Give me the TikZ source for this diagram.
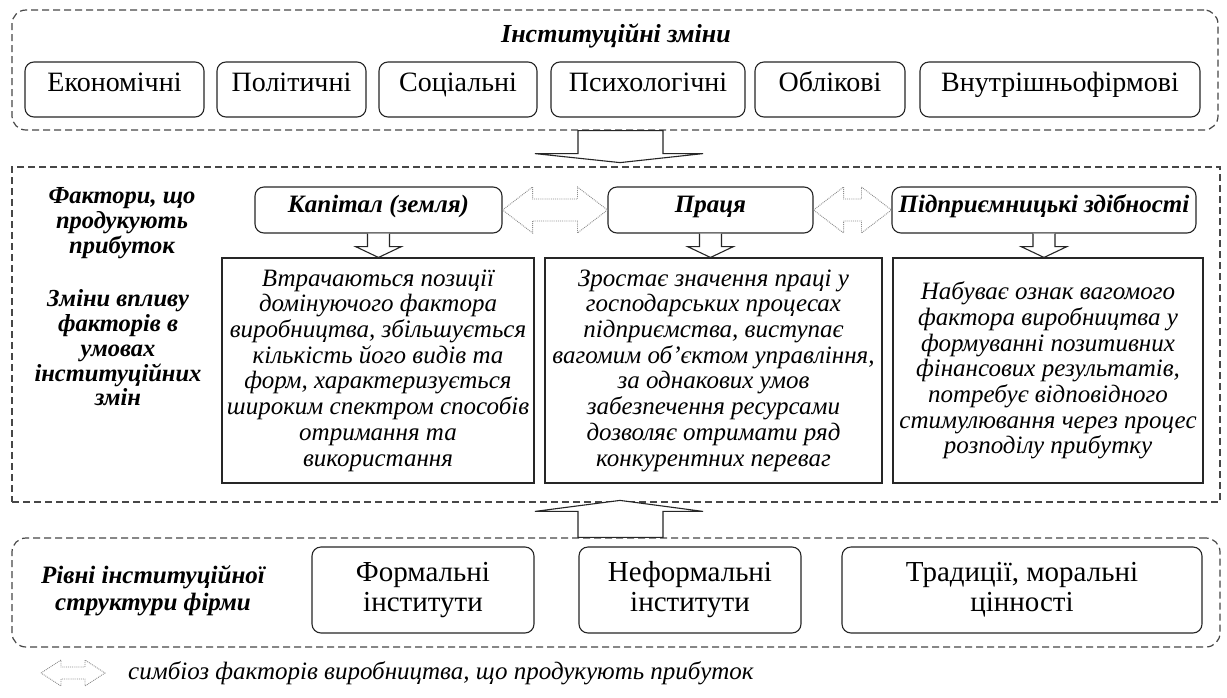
\documentclass[tikz,border=0pt]{standalone}
\usepackage{fontspec}
\setmainfont{Liberation Serif}
\usetikzlibrary{calc}
\begin{document}
\begin{tikzpicture}[x=1pt,y=-1pt,
  dbox/.style={draw=black!72, dash pattern=on 7pt off 4pt, line width=1.2pt, inner sep=0pt},
  one/.style={text height=0.71em, text depth=0.23em},
  rbox/.style={draw=black!85, rounded corners=9pt, line width=1.1pt, fill=white, inner sep=0pt, align=center, font=\fontsize{28}{30}\selectfont},
  fbox/.style={draw=black!85, rounded corners=9pt, line width=1.1pt, fill=white, inner sep=0pt, align=center, font=\fontsize{25}{27}\selectfont\bfseries\itshape},
  tbox/.style={draw=black!85, line width=1.1pt, fill=white, inner sep=0pt, align=center, font=\fontsize{25}{25.7}\selectfont\itshape},
  lbl/.style={align=center, inner sep=0pt, font=\fontsize{24.5}{24.7}\selectfont\bfseries\itshape},
  bigarrow/.style={draw=black!85, line width=1.1pt, fill=white, line join=miter},
  smallarrow/.style={draw=black!85, line width=1.1pt, fill=white},
  symb/.style={draw=black!45, densely dotted, line width=0.9pt},
]
\useasboundingbox[fill=white] (0,0) rectangle (1227,697);

% ---------- top section ----------
\node[dbox, rounded corners=14pt, minimum width=1206pt, minimum height=120pt] (top) at (615,70) {};
\node[lbl, one, font=\fontsize{26}{28}\selectfont\bfseries\itshape] (title) at (616,40) {Інституційні зміни};
\node[rbox, one, minimum width=179pt, minimum height=55pt] (econ) at (114.5,89.5) {Економічні};
\node[rbox, one, minimum width=149pt, minimum height=55pt] (polit) at (291.5,89.5) {Політичні};
\node[rbox, one, minimum width=158pt, minimum height=55pt] (soc) at (458,89.5) {Соціальні};
\node[rbox, one, minimum width=194pt, minimum height=55pt] (psych) at (648,89.5) {Психологічні};
\node[rbox, one, minimum width=150pt, minimum height=55pt] (oblik) at (830,89.5) {Облікові};
\node[rbox, one, minimum width=280pt, minimum height=55pt] (vnutr) at (1060,89.5) {Внутрішньофірмові};

% ---------- middle section ----------
\node[dbox, minimum width=1208pt, minimum height=335pt] (mid) at (616,334.5) {};
\node[lbl] (factors) at (122,223) {Фактори, що\\продукують\\прибуток};
\node[lbl] (changes) at (118,348) {Зміни впливу\\факторів в\\умовах\\інституційних\\змін};

\node[fbox, one, minimum width=247pt, minimum height=46pt] (kap) at (378.5,210) {Капітал (земля)};
\node[fbox, one, minimum width=205pt, minimum height=46pt] (praca) at (710.5,210) {Праця};
\node[fbox, one, minimum width=304pt, minimum height=46pt] (pidpr) at (1044,210) {Підприємницькі здібності};

\node[tbox, minimum width=312pt, minimum height=225pt] (t1) at (378,370.5) {Втрачаються позиції\\домінуючого фактора\\виробництва, збільшується\\кількість його видів та\\форм, характеризується\\широким спектром способів\\отримання та\\використання};
\node[tbox, minimum width=337pt, minimum height=225pt] (t2) at (713.5,370.5) {Зростає значення праці у\\господарських процесах\\підприємства, виступає\\вагомим об'єктом управління,\\за однакових умов\\забезпечення ресурсами\\дозволяє отримати ряд\\конкурентних переваг};
\node[tbox, minimum width=310pt, minimum height=225pt] (t3) at (1048,370.5) {Набуває ознак вагомого\\фактора виробництва у\\формуванні позитивних\\фінансових результатів,\\потребує відповідного\\стимулювання через процес\\розподілу прибутку};

% small arrows factor -> description
\foreach \a/\b in {kap/t1, praca/t2, pidpr/t3} {
  \draw[smallarrow] ($(\a.south)+(-11,0)$) -- ($(\a.south)+(-11,13)$) -- ($(\a.south)+(-23,13)$)
    -- (\a.south |- \b.north) -- ($(\a.south)+(23,13)$) -- ($(\a.south)+(11,13)$) -- ($(\a.south)+(11,0)$);
}

% symbiosis double arrows
\foreach \l/\r in {kap/praca, praca/pidpr} {
  \draw[symb] (\l.east) -- ($(\l.east)+(30,-23)$) -- ($(\l.east)+(30,-11)$) -- ($(\r.west)+(-30,-11)$)
    -- ($(\r.west)+(-30,-23)$) -- (\r.west) -- ($(\r.west)+(-30,23)$) -- ($(\r.west)+(-30,11)$)
    -- ($(\l.east)+(30,11)$) -- ($(\l.east)+(30,23)$) -- cycle;
}

% ---------- bottom section ----------
\node[dbox, rounded corners=14pt, minimum width=1208pt, minimum height=109pt] (bot) at (616,592.5) {};
\node[lbl, font=\fontsize{25}{27}\selectfont\bfseries\itshape] (levels) at (153,591) {Рівні інституційної\\структури фірми};
\node[rbox, font=\fontsize{29}{30}\selectfont, minimum width=222pt, minimum height=86pt] (formal) at (423,590) {Формальні\\інститути};
\node[rbox, font=\fontsize{29}{30}\selectfont, minimum width=222pt, minimum height=86pt] (informal) at (690,590) {Неформальні\\інститути};
\node[rbox, font=\fontsize{29}{30}\selectfont, minimum width=360pt, minimum height=86pt] (trad) at (1022,590) {Традиції, моральні\\цінності};

% ---------- big arrows ----------
\coordinate (dn) at ($(top.south)+(5,0)$);
\draw[bigarrow] ($(dn)+(-42,0)$) -- ($(dn)+(-42,23)$) -- ($(dn)+(-85,23)$) -- ($(dn)+(0,32)$)
  -- ($(dn)+(83,23)$) -- ($(dn)+(43,23)$) -- ($(dn)+(43,0)$) -- cycle;
\coordinate (up) at ($(bot.north)+(4,0)$);
\draw[bigarrow] ($(up)+(-42,0)$) -- ($(up)+(-42,-26)$) -- ($(up)+(-85,-26)$) -- ($(up)+(0,-37)$)
  -- ($(up)+(83,-26)$) -- ($(up)+(43,-26)$) -- ($(up)+(43,0)$) -- cycle;

% ---------- legend ----------
\coordinate (lgL) at (41,673);
\coordinate (lgR) at (105,673);
\draw[symb] (lgL) -- ($(lgL)+(20,-13)$) -- ($(lgL)+(20,-6)$) -- ($(lgR)+(-20,-6)$) -- ($(lgR)+(-20,-13)$)
  -- (lgR) -- ($(lgR)+(-20,13)$) -- ($(lgR)+(-20,6)$) -- ($(lgL)+(20,6)$) -- ($(lgL)+(20,13)$) -- cycle;
\node[anchor=west, inner sep=0pt, font=\fontsize{25}{27}\selectfont\itshape] (legend) at (128,673) {симбіоз факторів виробництва, що продукують прибуток};
\end{tikzpicture}
\end{document}
